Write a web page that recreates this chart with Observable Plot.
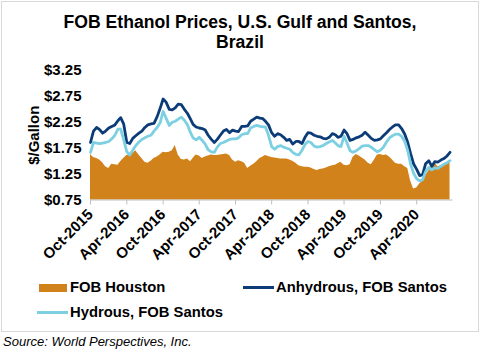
<!DOCTYPE html>
<html><head><meta charset="utf-8">
<script src="https://cdn.jsdelivr.net/npm/d3@7"></script>
<script src="https://cdn.jsdelivr.net/npm/@observablehq/plot@0.6"></script>
<style>
html,body{margin:0;padding:0;background:#fff;}
#wrap{position:relative;width:480px;height:354px;overflow:hidden;font-family:"Liberation Sans",Arial,sans-serif;color:#000;}
#frame{position:absolute;left:1px;top:1px;width:478px;height:331px;border:1px solid #d9d9d9;box-sizing:border-box;}
#title{position:absolute;left:0;top:12px;width:480px;text-align:center;font-weight:bold;font-size:17.6px;line-height:20px;}
#chart{position:absolute;left:0;top:50px;}
.leg{position:absolute;font-weight:bold;font-size:14.8px;line-height:16px;white-space:nowrap;}
.sw{position:absolute;}
#source{position:absolute;left:3px;top:334px;font-style:italic;font-size:13px;line-height:15px;white-space:nowrap;}
</style></head>
<body>
<div id="wrap">
  <div id="frame"></div>
  <div id="title">FOB Ethanol Prices, U.S. Gulf and Santos,<br>Brazil</div>
  <div id="chart"></div>
  <div class="sw" style="left:39px;top:284px;width:28px;height:8px;background:#D2821A"></div>
  <div class="leg" style="left:70px;top:279px">FOB Houston</div>
  <div class="sw" style="left:243px;top:285.5px;width:31px;height:3px;background:#0B3C78"></div>
  <div class="leg" style="left:276px;top:279px">Anhydrous, FOB Santos</div>
  <div class="sw" style="left:37px;top:311px;width:31px;height:3px;background:#7DD0E2"></div>
  <div class="leg" style="left:70px;top:303.5px">Hydrous, FOB Santos</div>
  <div id="source">Source: World Perspectives, Inc.</div>
</div>
<script>
// Semi-monthly sample dates, Oct 2015 – Sep 2020
const dates = d3.range(120).map(i => new Date(Date.UTC(2015, 9 + Math.floor(i / 2), i % 2 ? 16 : 1)));

const anhydrous = [
 1.86,2.08,2.15,2.11,2.04,2.08,2.14,2.17,2.20,2.28,
 2.34,2.22,1.86,1.84,1.94,1.99,2.04,2.08,2.15,2.20,
 2.22,2.23,2.36,2.52,2.70,2.64,2.50,2.49,2.53,2.60,
 2.59,2.50,2.42,2.31,2.21,2.16,2.14,2.13,2.10,2.00,
 1.92,1.86,1.92,2.00,2.08,2.11,2.05,2.10,2.08,2.07,
 2.17,2.17,2.18,2.27,2.31,2.35,2.33,2.32,2.27,2.20,
 2.05,1.98,2.03,2.01,1.96,1.90,1.92,1.83,1.88,1.88,
 1.84,1.96,2.05,2.04,2.00,1.98,1.97,1.94,1.93,1.96,
 2.03,2.01,1.96,1.98,2.10,2.03,1.90,1.92,1.95,1.97,
 2.00,2.06,2.00,1.94,1.90,1.91,1.93,1.99,2.05,2.11,
 2.16,2.20,2.20,2.13,2.02,1.86,1.65,1.45,1.34,1.22,
 1.24,1.45,1.51,1.40,1.49,1.48,1.52,1.55,1.60,1.67];

const hydrous = [
 1.67,1.86,1.85,1.84,1.85,1.86,1.88,1.93,2.00,2.12,
 2.12,1.92,1.68,1.62,1.71,1.80,1.87,1.92,1.95,1.98,
 2.00,2.08,2.15,2.24,2.46,2.33,2.19,2.25,2.27,2.31,
 2.35,2.29,2.20,2.05,1.95,1.91,1.96,1.90,1.83,1.72,
 1.68,1.67,1.77,1.84,1.86,1.89,1.92,1.93,1.93,1.95,
 2.01,2.03,2.03,2.14,2.17,2.19,2.17,2.16,2.16,2.00,
 1.78,1.73,1.78,1.80,1.77,1.75,1.73,1.67,1.63,1.62,
 1.71,1.82,1.88,1.86,1.79,1.77,1.78,1.80,1.84,1.87,
 1.90,1.85,1.80,1.78,1.98,1.85,1.70,1.67,1.70,1.74,
 1.79,1.80,1.80,1.77,1.72,1.68,1.71,1.77,1.87,1.95,
 1.99,2.02,2.02,1.98,1.88,1.70,1.45,1.27,1.16,1.12,
 1.14,1.30,1.38,1.33,1.37,1.36,1.40,1.44,1.47,1.51];

const houston = [
 1.63,1.57,1.55,1.52,1.47,1.39,1.36,1.44,1.43,1.42,
 1.49,1.55,1.61,1.62,1.65,1.70,1.62,1.55,1.48,1.46,
 1.50,1.55,1.58,1.62,1.67,1.66,1.67,1.70,1.80,1.62,
 1.53,1.52,1.54,1.49,1.55,1.62,1.60,1.55,1.58,1.60,
 1.62,1.61,1.61,1.62,1.63,1.64,1.61,1.52,1.48,1.51,
 1.49,1.46,1.36,1.40,1.44,1.49,1.55,1.58,1.61,1.59,
 1.57,1.56,1.55,1.54,1.54,1.54,1.52,1.50,1.46,1.41,
 1.39,1.38,1.38,1.37,1.34,1.32,1.34,1.35,1.37,1.39,
 1.41,1.42,1.45,1.48,1.42,1.41,1.43,1.57,1.63,1.60,
 1.56,1.52,1.46,1.43,1.52,1.62,1.63,1.61,1.62,1.58,
 1.52,1.46,1.44,1.44,1.39,1.36,1.12,0.96,0.98,1.06,
 1.11,1.22,1.31,1.42,1.48,1.39,1.41,1.43,1.47,1.51];

const yTicks = [0.75, 1.25, 1.75, 2.25, 2.75, 3.25];
const xTickLabels = ["2015-10-01","2016-04-01","2016-10-01","2017-04-01","2017-10-01",
  "2018-04-01","2018-10-01","2019-04-01","2019-10-01","2020-04-01"];
const xTicks = xTickLabels.map(s => new Date(s + "T00:00:00Z"));

const rows = dates.map((d, i) => ({date: d, houston: houston[i], anhydrous: anhydrous[i], hydrous: hydrous[i]}));

const plot = Plot.plot({
  width: 480,
  height: 220,
  marginTop: 20,
  marginBottom: 70.5,
  marginLeft: 90,
  marginRight: 27.5,
  style: {fontFamily: '"Liberation Sans", Arial, sans-serif', fontSize: "15px", fontWeight: "bold", color: "#000", background: "transparent"},
  x: {type: "utc", domain: [new Date("2015-10-01T00:00:00Z"), new Date("2020-10-01T00:00:00Z")]},
  y: {domain: [0.75, 3.25]},
  marks: [
    Plot.areaY(rows, {x: "date", y1: () => 0.75, y2: "houston", fill: "#D2821A", curve: "linear"}),
    Plot.lineY(rows, {x: "date", y: "anhydrous", stroke: "#0B3C78", strokeWidth: 2.8, strokeLinejoin: "round"}),
    Plot.lineY(rows, {x: "date", y: "hydrous", stroke: "#7DD0E2", strokeWidth: 2.8, strokeLinejoin: "round"}),
    Plot.ruleY([0.75], {stroke: "#bfbfbf", strokeWidth: 1}),
    Plot.axisY({ticks: yTicks, tickFormat: d => "$" + d.toFixed(2), tickSize: 0, tickPadding: 9,
      fill: "#000", label: "$/Gallon", labelAnchor: "center", labelOffset: 62, labelArrow: "none"}),
    Plot.axisX({ticks: xTicks, tickFormat: d3.utcFormat("%b-%Y"), tickRotate: -45, tickSize: 5,
      tickPadding: 7, stroke: "#bfbfbf", fill: "#000", label: null})
  ]
});
document.getElementById("chart").appendChild(plot);
</script>
</body></html>
